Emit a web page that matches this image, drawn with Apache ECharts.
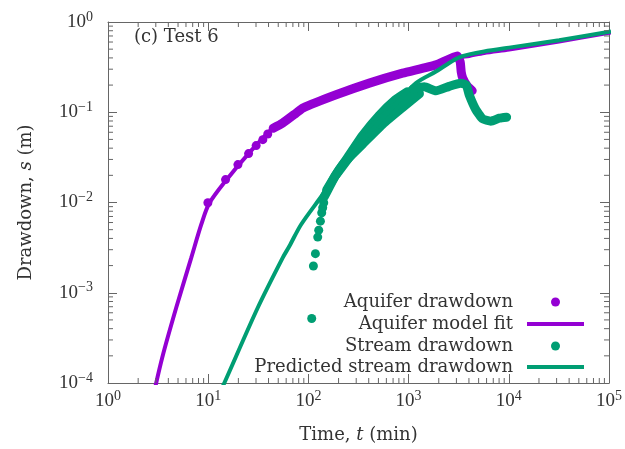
<!DOCTYPE html>
<html>
<head>
<meta charset="utf-8">
<title>Test 6 drawdown</title>
<script src="https://cdn.jsdelivr.net/npm/echarts@6/dist/echarts.min.js"></script>
<style>
  html, body { margin: 0; padding: 0; background: #fff; }
  #chart { width: 625px; height: 449px; }
</style>
</head>
<body>
<div id="chart"></div>
<script>
// time t in min, drawdown s in m

// aquifer drawdown: separate early readings
const aquiferEarlyT = [9.93, 14.9, 19.8, 25.3, 30.1, 35.1, 39.3];
const aquiferEarlyS = [0.00993, 0.01795, 0.0263, 0.0348, 0.0427, 0.0497, 0.0574];
// aquifer drawdown: dense record (points overlap into a band)
const aquiferDenseT = [44.5, 55.5, 75.4, 87.8, 188.8, 405.5, 871, 1875, 3055, 3273, 3350, 3467, 3846, 4315];
const aquiferDenseS = [0.0665, 0.076, 0.098, 0.1113, 0.156, 0.2103, 0.271, 0.335, 0.421, 0.361, 0.280, 0.240, 0.196, 0.173];

// aquifer model fit
const fitT = [2.86, 3.48, 4.8, 6.78, 8.53, 10.2, 15.2, 25.3, 45.8, 87.8, 188.8, 405.5, 871, 1875, 3055, 4027, 5678, 10075, 31770, 104700];
const fitS = [7.56e-5, 1.92e-4, 6.86e-4, 2.45e-3, 5.71e-3, 0.0097, 0.0178, 0.0348, 0.0691, 0.111, 0.156, 0.21, 0.271, 0.335, 0.40, 0.421, 0.454, 0.497, 0.609, 0.766];

// stream drawdown: separate early readings
const streamEarlyT = [107.9, 112.2, 117.5, 123.9, 126.8, 131.8, 135.8, 138.9, 142.2];
const streamEarlyS = [5.19e-4, 1.98e-3, 2.71e-3, 4.14e-3, 4.94e-3, 6.21e-3, 7.69e-3, 8.74e-3, 9.93e-3];
// stream drawdown: dense record, upper and lower edges of the band
const streamUpperT = [144.5, 185.9, 253.4, 345.4, 504.7, 736.9, 970];
const streamUpperS = [0.01165, 0.01988, 0.03306, 0.0550, 0.0915, 0.1375, 0.1686];
const streamLowerT = [152, 191, 240.4, 352.5, 558.5, 883, 1283];
const streamLowerS = [0.01374, 0.0210, 0.0295, 0.0450, 0.0748, 0.1145, 0.1606];
const streamMidT = [191, 349, 530.7, 807, 1114];
const streamMidS = [0.0205, 0.0497, 0.0826, 0.1254, 0.164];
// stream drawdown: late record, plateau then recovery
const streamLateT = [1114, 1432, 1875, 2542, 3313, 3757, 4026, 4693, 5461, 6623, 8017, 9513];
const streamLateS = [0.1819, 0.1913, 0.1728, 0.1937, 0.209, 0.2014, 0.156, 0.1066, 0.0848, 0.0796, 0.0859, 0.0881];

// predicted stream drawdown
const predT = [13.3, 14.6, 31.3, 55.5, 64.7, 84.6, 138.9, 228.6, 405.5, 720, 1185, 1875, 2542, 3200, 4027, 5678, 10075, 31770, 104700];
const predS = [8.2e-5, 1.02e-4, 6.86e-4, 2.45e-3, 3.29e-3, 5.71e-3, 0.01226, 0.0277, 0.0593, 0.118, 0.2103, 0.2824, 0.352, 0.405, 0.4375, 0.472, 0.520, 0.628, 0.785];

// axes
const xMin = 1, xMax = 1e5;
const yMin = 1e-4, yMax = 1;
const xDecades = [1, 10, 100, 1000, 10000];
const yDecades = [1e-4, 1e-3, 1e-2, 1e-1];
const mantissas = [2, 3, 4, 5, 6, 7, 8, 9];

const font = 'DejaVu Serif';
const numFont = 'Liberation Serif';
const textColor = '#333';
const axisColor = '#666';
const purple = '#9400d3';
const green = '#009e73';

function pairs(xs, ys) {
  return xs.map((x, i) => [x, ys[i]]);
}

function expLabel(v) {
  const e = Math.round(Math.log10(v));
  return '{b|10}{s|' + (e < 0 ? '\u2212' + (-e) : e) + '}';
}

const labelRich = {
  b: { fontFamily: numFont, fontSize: 19, lineHeight: 20, color: textColor },
  s: { fontFamily: numFont, fontSize: 14, lineHeight: 14, color: textColor, padding: [0, 0, 10, 0] }
};
const nameRich = {
  r: { fontFamily: font, fontSize: 18, color: textColor },
  i: { fontFamily: font, fontSize: 18, color: textColor, fontStyle: 'italic' }
};

function logAxis(pos, min, max, withLabels) {
  return {
    type: 'log', logBase: 10, min: min, max: max, position: pos,
    axisLine: { show: true, onZero: false, lineStyle: { color: axisColor, width: 1 } },
    axisTick: { show: true, inside: true, length: 9, lineStyle: { color: axisColor } },
    axisLabel: { show: withLabels, formatter: expLabel, rich: labelRich, showMinLabel: true, showMaxLabel: true },
    splitLine: { show: false },
    minorTick: { show: false }
  };
}

const xBottom = logAxis('bottom', xMin, xMax, true);
xBottom.axisLabel.margin = 8;
xBottom.name = '{r|Time, }{i|t}{r| (min)}';
xBottom.nameLocation = 'middle';
xBottom.nameGap = 43;
xBottom.nameTextStyle = { rich: nameRich };

const yLeft = logAxis('left', yMin, yMax, true);
yLeft.axisLabel.margin = 15;
yLeft.name = '{r|Drawdown, }{i|s}{r| (m)}';
yLeft.nameLocation = 'middle';
yLeft.nameRotate = 90;
yLeft.nameGap = 73;
yLeft.nameTextStyle = { rich: nameRich };

const xTop = logAxis('top', xMin, xMax, false);
const yRight = logAxis('right', yMin, yMax, false);

const xMinor = xDecades.flatMap(d => mantissas.map(m => m * d));
const yMinor = yDecades.flatMap(d => mantissas.map(m => m * d));

function minorTickSeries(values, alongX) {
  return {
    type: 'custom',
    coordinateSystem: 'cartesian2d',
    silent: true,
    clip: false,
    z: 5,
    data: values.map(v => alongX ? [v, yMin] : [xMin, v]),
    renderItem: function (params, api) {
      const style = { stroke: axisColor, lineWidth: 1 };
      if (alongX) {
        const v = api.value(0);
        const b = api.coord([v, yMin]);
        const t = api.coord([v, yMax]);
        return { type: 'group', children: [
          { type: 'line', shape: { x1: b[0], y1: b[1], x2: b[0], y2: b[1] - 5 }, style: style },
          { type: 'line', shape: { x1: t[0], y1: t[1], x2: t[0], y2: t[1] + 5 }, style: style }
        ] };
      }
      const v = api.value(1);
      const l = api.coord([xMin, v]);
      const r = api.coord([xMax, v]);
      return { type: 'group', children: [
        { type: 'line', shape: { x1: l[0], y1: l[1], x2: l[0] + 5, y2: l[1] }, style: style },
        { type: 'line', shape: { x1: r[0], y1: r[1], x2: r[0] - 5, y2: r[1] }, style: style }
      ] };
    }
  };
}

function bandLine(name, color, xs, ys) {
  return {
    name: name, type: 'line', data: pairs(xs, ys),
    symbol: 'none', smooth: 0.15,
    lineStyle: { color: color, width: 9, cap: 'round', join: 'round' },
    itemStyle: { color: color },
    emphasis: { disabled: true }
  };
}

function modelLine(name, color, xs, ys) {
  return {
    name: name, type: 'line', data: pairs(xs, ys),
    symbol: 'none', smooth: 0.3,
    lineStyle: { color: color, width: 4 },
    itemStyle: { color: color },
    emphasis: { disabled: true }
  };
}

function dots(name, color, xs, ys) {
  return {
    name: name, type: 'scatter', data: pairs(xs, ys),
    symbol: 'circle', symbolSize: 9,
    itemStyle: { color: color, opacity: 1 },
    emphasis: { disabled: true }
  };
}

const legendTextStyle = { fontFamily: font, fontSize: 18, lineHeight: 22, color: textColor };
function legendRow(name, top, isDot) {
  return {
    data: [{ name: name, icon: isDot ? 'circle' : 'rect' }],
    orient: 'vertical', align: 'right', padding: 0,
    top: top, right: isDot ? 65 : 41,
    itemWidth: isDot ? 9 : 57, itemHeight: isDot ? 9 : 4,
    selectedMode: false,
    textStyle: Object.assign({}, legendTextStyle, { padding: [0, isDot ? 33 : 9, 0, 0] })
  };
}

const chart = echarts.init(document.getElementById('chart'), null, { renderer: 'canvas' });
chart.setOption({
  animation: false,
  backgroundColor: '#fff',
  title: {
    text: '(c) Test 6', left: 134, top: 28, padding: 0,
    textStyle: { fontFamily: font, fontSize: 18, fontWeight: 'normal', color: textColor }
  },
  grid: { left: 108, right: 15, top: 22, bottom: 65, containLabel: false },
  xAxis: [xBottom, xTop],
  yAxis: [yLeft, yRight],
  legend: [
    legendRow('Aquifer drawdown', 291, true),
    legendRow('Aquifer model fit', 313, false),
    legendRow('Stream drawdown', 335, true),
    legendRow('Predicted stream drawdown', 356, false)
  ],
  series: [
    dots('Aquifer drawdown', purple, aquiferEarlyT, aquiferEarlyS),
    bandLine('aquifer record', purple, aquiferDenseT, aquiferDenseS),
    modelLine('Aquifer model fit', purple, fitT, fitS),
    dots('Stream drawdown', green, streamEarlyT, streamEarlyS),
    bandLine('stream upper', green, streamUpperT, streamUpperS),
    bandLine('stream lower', green, streamLowerT, streamLowerS),
    bandLine('stream mid', green, streamMidT, streamMidS),
    bandLine('stream late', green, streamLateT, streamLateS),
    modelLine('Predicted stream drawdown', green, predT, predS),
    minorTickSeries(xMinor, true),
    minorTickSeries(yMinor, false)
  ]
});
</script>
</body>
</html>
